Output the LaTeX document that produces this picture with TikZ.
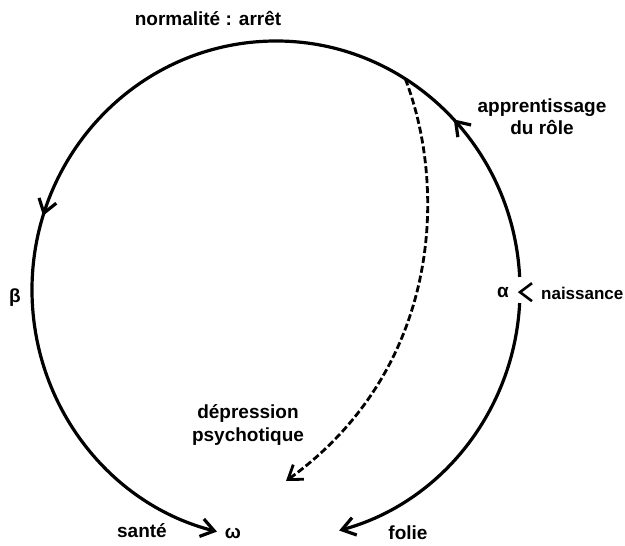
\documentclass[tikz,border=0pt]{standalone}
\usepackage{fontspec}
\setmainfont{Liberation Sans}
\usetikzlibrary{arrows.meta,decorations.markings}

\begin{document}
\begin{tikzpicture}[x=1pt,y=-1pt,line width=3.2pt,
  lbl/.style={font=\fontsize{19}{22}\selectfont\bfseries, inner sep=0pt},
  barb/.style={-{Straight Barb[length=13pt,width=18pt]}}]
  \useasboundingbox (0,0) rectangle (625,546);
  \coordinate (ctr) at (276,290);
  % texts
  \node[lbl] (norm) at (208,18) {normalité : arrêt};
  \node[lbl, align=center] (appr) at (542,117) {apprentissage\\du rôle};
  \node[lbl] (alpha) at (503,292) {α};
  \node[lbl, font=\fontsize{17}{22}\selectfont\bfseries, anchor=east] (naiss) at (625,293) {naissance};
  \node[lbl] (beta) at (15,298) {β};
  \node[lbl, align=center] (depr) at (248,425) {dépression\\[1pt]psychotique};
  \node[lbl] (sante) at (142,531) {santé};
  \node[lbl] (omega) at (233,533) {ω};
  \node[lbl] (folie) at (408,533) {folie};
  % from alpha over the top and down to omega
  \draw[barb, postaction={decorate}, decoration={markings,
      mark=at position 0.16 with {\arrow{Straight Barb[length=13pt,width=18pt]}},
      mark=at position 0.63 with {\arrow{Straight Barb[length=13pt,width=18pt]}}}]
    (ctr) ++(-3:244 and 249) arc[start angle=-3, end angle=-256, x radius=244, y radius=249];
  % from alpha down to folie
  \draw[barb] (ctr) ++(3:244 and 249) arc[start angle=3, end angle=75, x radius=244, y radius=249];
  % birth mark at alpha
  \path (ctr) ++(0.5:244 and 249) coordinate (a);
  \draw[line width=2.6pt] (a) ++(12,-9) -- (a) -- ++(12,9);
  % dashed branch
  \path (ctr) ++(-58:244 and 249) coordinate (d0);
  \coordinate (d1) at (286,481);
  \draw[barb, line width=2.8pt, dash pattern=on 7pt off 3pt]
    (d0) .. controls (448,190) and (440,370) .. (d1);
\end{tikzpicture}
\end{document}
